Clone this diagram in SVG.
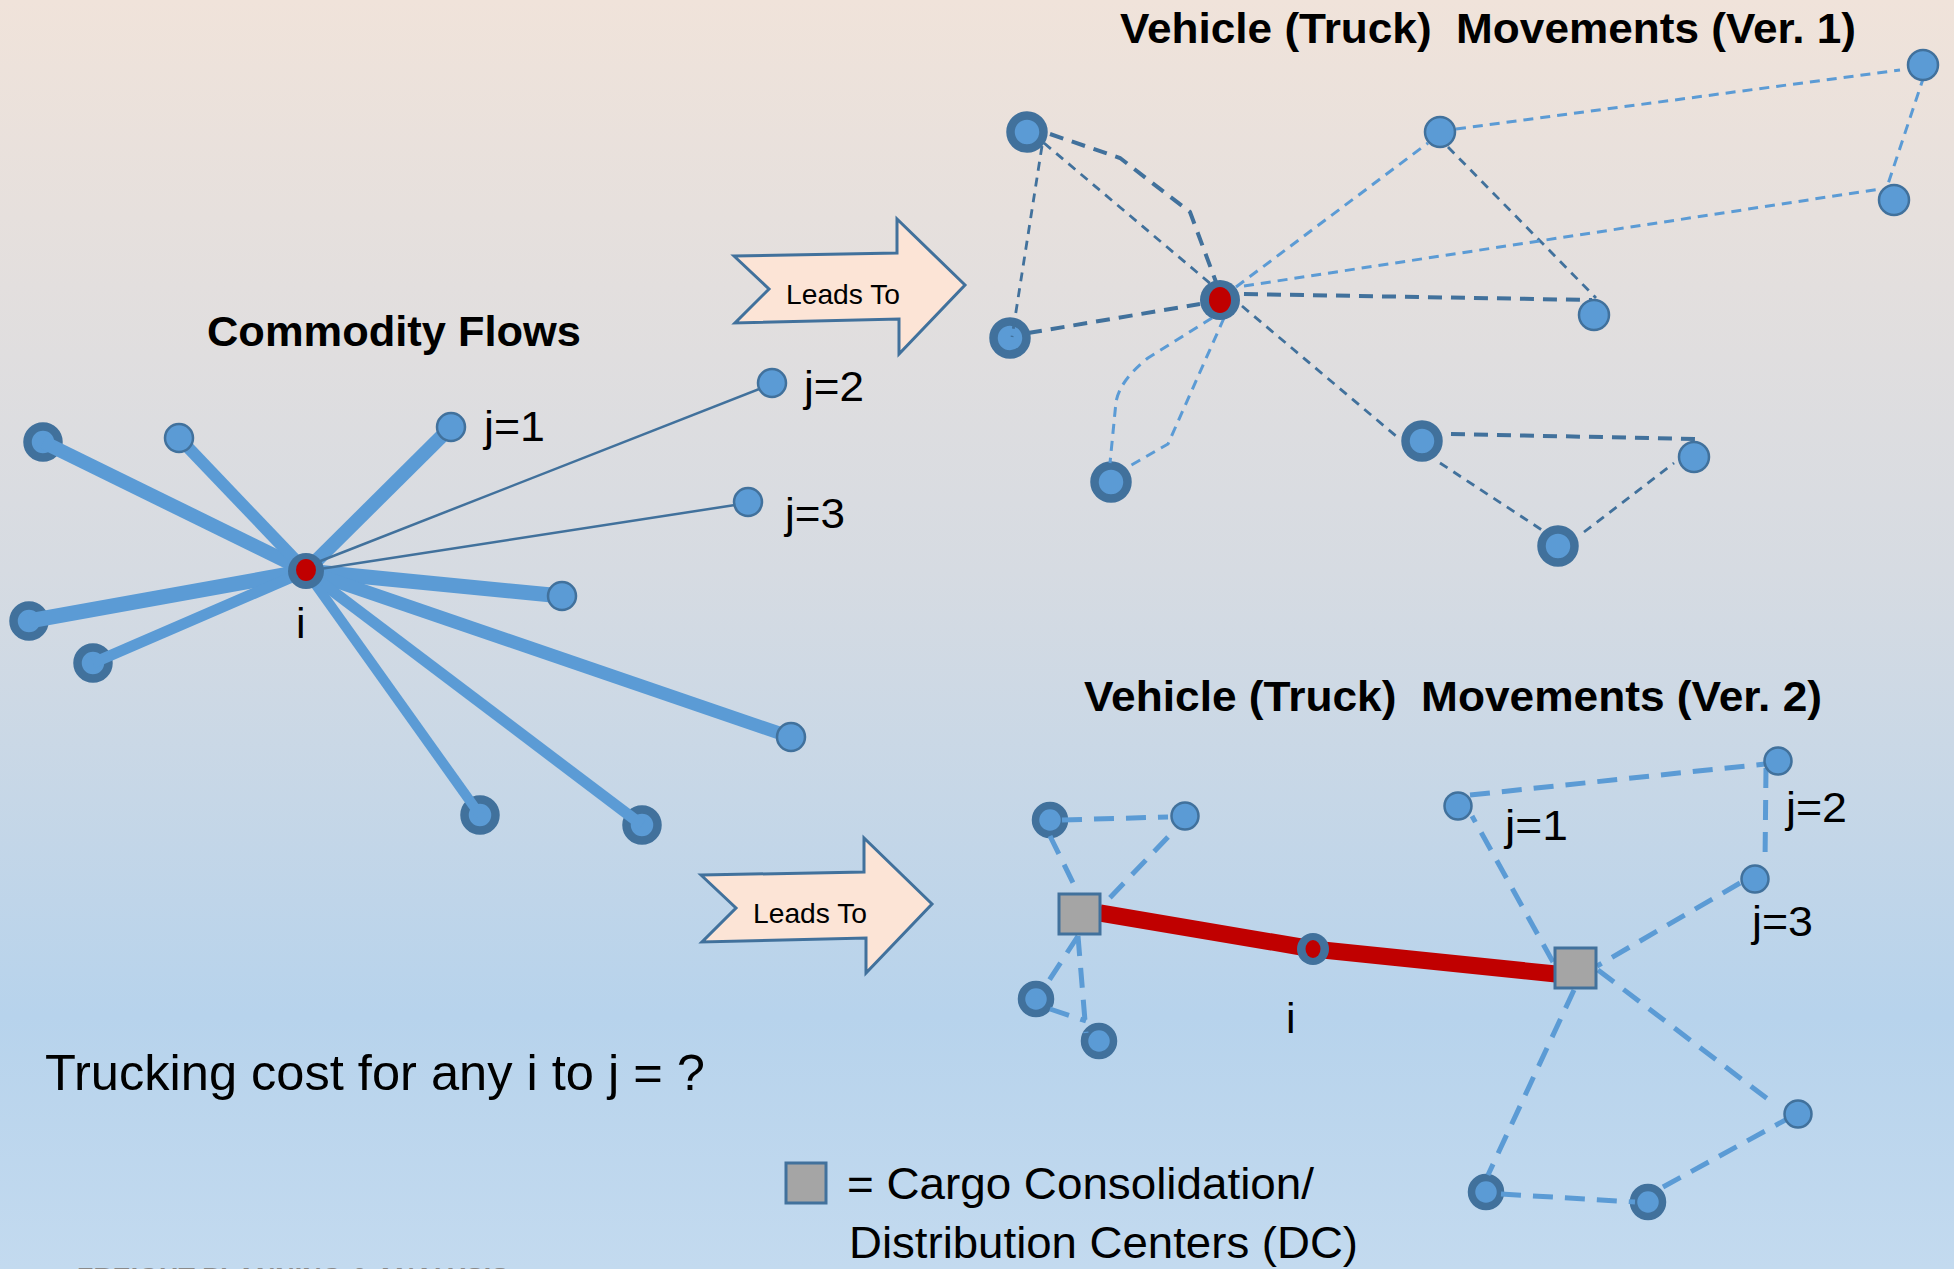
<svg xmlns="http://www.w3.org/2000/svg" width="1954" height="1269" viewBox="0 0 1954 1269">
  <defs>
    <linearGradient id="bg" x1="0" y1="0" x2="0" y2="1">
      <stop offset="0" stop-color="#f0e3da"/>
      <stop offset="0.45" stop-color="#d6dbe2"/>
      <stop offset="0.8" stop-color="#b7d3ec"/>
      <stop offset="1" stop-color="#c3daef"/>
    </linearGradient>
    <polygon id="leads" points="0,0 163,-3 163,-37 231,29 165,98 165,63 1,67 35,33"/>
  </defs>
  <style>
    .lite { fill: #5b9bd5; stroke: #41719c; stroke-width: 2.5; }
    .dark { fill: #5b9bd5; stroke: #41719c; stroke-width: 8.5; }
    .dark2 { fill: #5b9bd5; stroke: #41719c; stroke-width: 7.5; }
    .hub { fill: #41719c; }
    .red { fill: #c00000; }
    .dc { fill: #a5a5a5; stroke: #41719c; stroke-width: 3; }
    .flow { stroke: #5b9bd5; fill: none; }
    .thin { stroke: #41719c; stroke-width: 2.5; fill: none; }
    .dk { stroke: #41719c; stroke-width: 4; stroke-dasharray: 14 9; fill: none; }
    .dkt { stroke: #41719c; stroke-width: 2.8; stroke-dasharray: 9 7; fill: none; }
    .lt { stroke: #5b9bd5; stroke-width: 3; stroke-dasharray: 10 7; fill: none; }
    .lt2 { stroke: #5b9bd5; stroke-width: 5; stroke-dasharray: 20 12; fill: none; }
    .arrow { fill: #fce4d6; stroke: #41719c; stroke-width: 3; stroke-linejoin: miter; }
    text { font-family: "Liberation Sans", Arial, sans-serif; fill: #000; }
    .title { font-weight: bold; font-size: 43px; }
    .lbl { font-size: 43px; }
    .big { font-size: 50px; }
    .leg { font-size: 45px; }
    .arrtxt { font-size: 28px; }
  </style>

  <rect x="0" y="0" width="1954" height="1269" fill="url(#bg)"/>

  <!-- ring-style nodes (drawn under the connectors) -->
  <g id="commodity-dark-nodes">
    <circle id="cf-d1" class="dark" cx="43" cy="442" r="15.5"/>
    <circle id="cf-d2" class="dark" cx="29" cy="621" r="15.5"/>
    <circle id="cf-d3" class="dark" cx="93" cy="663" r="15.5"/>
    <circle id="cf-d4" class="dark" cx="480" cy="815" r="15.5"/>
    <circle id="cf-d5" class="dark" cx="642" cy="825" r="15.5"/>
  </g>
  <g id="v1-dark-nodes">
    <circle id="v1-d1" class="dark" cx="1027" cy="132" r="16.5"/>
    <circle id="v1-d2" class="dark" cx="1010" cy="338" r="16.5"/>
    <circle id="v1-d3" class="dark" cx="1111" cy="482" r="16.5"/>
    <circle id="v1-d4" class="dark" cx="1422" cy="441" r="16.5"/>
    <circle id="v1-d5" class="dark" cx="1558" cy="546" r="16.5"/>
  </g>
  <g id="v2-dark-nodes">
    <circle id="v2-d1" class="dark2" cx="1050" cy="820" r="14.5"/>
    <circle id="v2-d2" class="dark2" cx="1036" cy="999" r="14.5"/>
    <circle id="v2-d3" class="dark2" cx="1099" cy="1041" r="14.5"/>
    <circle id="v2-d4" class="dark2" cx="1486" cy="1192" r="14.5"/>
    <circle id="v2-d5" class="dark2" cx="1648" cy="1202" r="14.5"/>
  </g>

  <!-- connectors -->
  <g id="connectors" stroke-linecap="butt">
    <!-- commodity flows out of origin i -->
    <line class="flow" stroke-width="14" x1="306" y1="571" x2="43" y2="442"/>
    <line class="flow" stroke-width="12" x1="306" y1="571" x2="179" y2="438"/>
    <line class="flow" stroke-width="14" x1="306" y1="571" x2="451" y2="427"/>
    <line class="flow" stroke-width="15" x1="306" y1="571" x2="29" y2="621"/>
    <line class="flow" stroke-width="11" x1="306" y1="571" x2="93" y2="663"/>
    <line class="flow" stroke-width="15" x1="306" y1="571" x2="562" y2="596"/>
    <line class="flow" stroke-width="13" x1="306" y1="571" x2="791" y2="737"/>
    <line class="flow" stroke-width="11" x1="306" y1="571" x2="642" y2="825"/>
    <line class="flow" stroke-width="10" x1="306" y1="571" x2="480" y2="815"/>
    <line class="thin" x1="318" y1="562" x2="772" y2="384"/>
    <line class="thin" x1="320" y1="569" x2="748" y2="503"/>

    <!-- truck tours, version 1 -->
    <polyline class="dk" points="1050,134 1120,158 1190,212 1216,282"/>
    <line class="dk" x1="1028" y1="333" x2="1200" y2="304"/>
    <line class="dk" x1="1244" y1="294" x2="1592" y2="300"/>
    <line class="dk" x1="1451" y1="434" x2="1696" y2="439"/>
    <line class="dkt" x1="1044" y1="143" x2="1212" y2="285"/>
    <line class="dkt" x1="1042" y1="146" x2="1012" y2="337"/>
    <line class="dkt" x1="1448" y1="147" x2="1596" y2="298"/>
    <line class="dkt" x1="1242" y1="306" x2="1396" y2="436"/>
    <line class="dkt" x1="1440" y1="463" x2="1548" y2="534"/>
    <line class="dkt" x1="1584" y1="532" x2="1674" y2="463"/>
    <line class="lt" x1="1236" y1="287" x2="1428" y2="143"/>
    <line class="lt" x1="1456" y1="129" x2="1900" y2="70"/>
    <line class="lt" x1="1924" y1="76" x2="1888" y2="184"/>
    <line class="lt" x1="1244" y1="286" x2="1880" y2="189"/>
    <path class="lt" d="M1212,318 L1148,358 Q1120,380 1116,402 L1110,463"/>
    <polyline class="lt" points="1224,318 1168,444 1128,467"/>

    <!-- truck tours, version 2 (via consolidation centres) -->
    <line class="lt2" x1="1062" y1="820" x2="1168" y2="817"/>
    <line class="lt2" x1="1050" y1="836" x2="1078" y2="893"/>
    <line class="lt2" x1="1168" y1="837" x2="1102" y2="906"/>
    <line class="lt2" x1="1078" y1="936" x2="1046" y2="985"/>
    <line class="lt2" x1="1078" y1="936" x2="1086" y2="1033"/>
    <line class="lt2" x1="1050" y1="1009" x2="1086" y2="1021"/>
    <line class="lt2" x1="1553" y1="962" x2="1472" y2="816"/>
    <line class="lt2" x1="1470" y1="795" x2="1765" y2="764"/>
    <line class="lt2" x1="1766" y1="768" x2="1765" y2="863"/>
    <line class="lt2" x1="1740" y1="883" x2="1597" y2="966"/>
    <line class="lt2" x1="1598" y1="970" x2="1769" y2="1100"/>
    <line class="lt2" x1="1574" y1="990" x2="1488" y2="1175"/>
    <line class="lt2" x1="1501" y1="1194" x2="1635" y2="1202"/>
    <line class="lt2" x1="1663" y1="1187" x2="1789" y2="1118"/>

    <!-- line-haul between the two centres through i -->
    <polyline points="1100,913 1313,949 1556,974" fill="none" stroke="#c00000" stroke-width="17" stroke-linejoin="round"/>
  </g>

  <!-- plain nodes -->
  <g id="commodity-nodes">
    <circle id="cf-l1" class="lite" cx="179" cy="438" r="14"/>
    <circle id="cf-j1" class="lite" cx="451" cy="427" r="14"/>
    <circle id="cf-j2" class="lite" cx="772" cy="383" r="14"/>
    <circle id="cf-j3" class="lite" cx="748" cy="502" r="14"/>
    <circle id="cf-l2" class="lite" cx="562" cy="596" r="14"/>
    <circle id="cf-l3" class="lite" cx="791" cy="737" r="14"/>
  </g>
  <g id="v1-nodes">
    <circle id="v1-l1" class="lite" cx="1440" cy="132" r="15"/>
    <circle id="v1-l2" class="lite" cx="1923" cy="65" r="15"/>
    <circle id="v1-l3" class="lite" cx="1894" cy="200" r="15"/>
    <circle id="v1-l4" class="lite" cx="1594" cy="315" r="15"/>
    <circle id="v1-l5" class="lite" cx="1694" cy="457" r="15"/>
  </g>
  <g id="v2-nodes">
    <circle id="v2-l1" class="lite" cx="1185" cy="816" r="13.5"/>
    <circle id="v2-j1" class="lite" cx="1458" cy="806" r="13.5"/>
    <circle id="v2-j2" class="lite" cx="1778" cy="761" r="13.5"/>
    <circle id="v2-j3" class="lite" cx="1755" cy="879" r="13.5"/>
    <circle id="v2-l2" class="lite" cx="1798" cy="1114" r="13.5"/>
  </g>

  <!-- origin i in each panel -->
  <g id="cf-origin">
    <circle class="hub" cx="306" cy="571" r="18"/>
    <ellipse class="red" cx="306" cy="570" rx="10" ry="11"/>
  </g>
  <g id="v1-origin">
    <circle class="hub" cx="1220" cy="300" r="20"/>
    <ellipse class="red" cx="1220" cy="300" rx="11" ry="13"/>
  </g>
  <g id="v2-origin">
    <circle class="hub" cx="1313" cy="949" r="16"/>
    <ellipse class="red" cx="1313" cy="949" rx="7.5" ry="9"/>
  </g>

  <!-- consolidation / distribution centres -->
  <g id="dc-west"><rect class="dc" x="1059" y="894" width="41" height="40"/></g>
  <g id="dc-east"><rect class="dc" x="1555" y="948" width="41" height="40"/></g>

  <!-- "Leads To" block arrows -->
  <g id="arrow-top" transform="translate(734,256)">
    <use href="#leads" class="arrow"/>
    <text class="arrtxt" x="52" y="48" textLength="114" lengthAdjust="spacingAndGlyphs">Leads To</text>
  </g>
  <g id="arrow-bottom" transform="translate(701,875)">
    <use href="#leads" class="arrow"/>
    <text class="arrtxt" x="52" y="48" textLength="114" lengthAdjust="spacingAndGlyphs">Leads To</text>
  </g>

  <!-- legend -->
  <g id="legend">
    <rect class="dc" x="786" y="1163" width="40" height="40"/>
    <text class="leg" x="847" y="1199" textLength="467" lengthAdjust="spacingAndGlyphs">= Cargo Consolidation/</text>
    <text class="leg" x="849" y="1258" textLength="509" lengthAdjust="spacingAndGlyphs">Distribution Centers (DC)</text>
  </g>

  <!-- headings and labels -->
  <g id="labels">
    <text class="title" x="207" y="346" textLength="374" lengthAdjust="spacingAndGlyphs">Commodity Flows</text>
    <text class="title" x="1120" y="43" xml:space="preserve" textLength="736" lengthAdjust="spacingAndGlyphs">Vehicle (Truck)  Movements (Ver. 1)</text>
    <text class="title" x="1084" y="711" xml:space="preserve" textLength="738" lengthAdjust="spacingAndGlyphs">Vehicle (Truck)  Movements (Ver. 2)</text>
    <text class="lbl" x="484" y="441" textLength="61" lengthAdjust="spacingAndGlyphs">j=1</text>
    <text class="lbl" x="804" y="401" textLength="60" lengthAdjust="spacingAndGlyphs">j=2</text>
    <text class="lbl" x="785" y="528" textLength="60" lengthAdjust="spacingAndGlyphs">j=3</text>
    <text class="lbl" x="296" y="638">i</text>
    <text class="lbl" x="1505" y="840" textLength="63" lengthAdjust="spacingAndGlyphs">j=1</text>
    <text class="lbl" x="1786" y="822" textLength="61" lengthAdjust="spacingAndGlyphs">j=2</text>
    <text class="lbl" x="1752" y="936" textLength="61" lengthAdjust="spacingAndGlyphs">j=3</text>
    <text class="lbl" x="1286" y="1033">i</text>
    <text class="big" x="45" y="1090" textLength="660" lengthAdjust="spacingAndGlyphs">Trucking cost for any i to j = ?</text>
    <text x="77" y="1287" font-size="27" font-weight="bold" style="fill:#8a8a8a" textLength="432" lengthAdjust="spacingAndGlyphs">FREIGHT PLANNING &amp; ANALYSIS</text>
  </g>
</svg>
